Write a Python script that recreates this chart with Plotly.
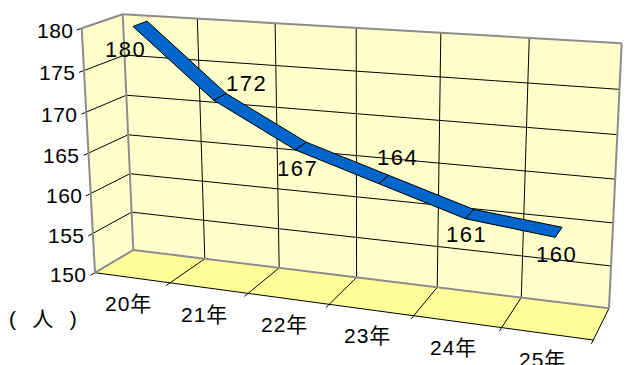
import numpy as np
import plotly.graph_objects as go

# ---------------- data ----------------
categories = ["20年", "21年", "22年", "23年", "24年", "25年"]
values = [180, 172, 167, 164, 161, 160]
y_ticks = [150, 155, 160, 165, 170, 175, 180]
y_min, y_max = 150, 180
unit_label = "(\u2002 人 \u2002)"

# ---------------- style / layout ----------------
W, H = 627, 365
FONT = "Liberation Sans, Arial, Noto Sans CJK JP, sans-serif"
WALL = "#FFFFCC"
FLOOR = "#FFFF99"
EDGE = "#8C8C8C"
RIBBON = "#0066CC"
RIB_W0, RIB_W1 = 0.32, 0.68          # ribbon depth band (0 = front, 1 = back)
# label offsets (pixels) relative to the projected point, per point
LABEL_SHIFT = [(-15, 26), (27, -13), (-3, 22), (14, -22), (-3, 20), (-2, 22)]

# perspective frame of the 3-D box (pixel corners: bottom-left, bottom-right, top-right, top-left)
FRONT_Q = [(95.0, 272.7), (593.3, 340.0), (603.0, 66.3), (81.7, 28.3)]
BACK_Q = [(133.3, 250.0), (609.0, 308.3), (621.7, 43.3), (122.7, 14.3)]


def homography(dst):
    src = [(0, 0), (1, 0), (1, 1), (0, 1)]
    A, b = [], []
    for (x, y), (X, Y) in zip(src, dst):
        A.append([x, y, 1, 0, 0, 0, -X * x, -X * y]); b.append(X)
        A.append([0, 0, 0, x, y, 1, -Y * x, -Y * y]); b.append(Y)
    h = np.linalg.solve(np.array(A, float), np.array(b, float))
    M = np.append(h, 1.0).reshape(3, 3)

    def f(s, t):
        p = M @ np.array([s, t, 1.0])
        return np.array([p[0] / p[2], p[1] / p[2]])
    return f


front = homography(FRONT_Q)
back = homography(BACK_Q)
n = len(categories)


def P(u, v, w):
    s = u / n
    t = (v - y_min) / (y_max - y_min)
    f = front(s, t)
    bk = back(s, t)
    return f + w * (bk - f)


fig = go.Figure()


def poly(pts, fill, line_color=None, lw=0):
    xs = [p[0] for p in pts] + [pts[0][0]]
    ys = [p[1] for p in pts] + [pts[0][1]]
    fig.add_trace(go.Scatter(x=xs, y=ys, mode="lines", fill="toself", fillcolor=fill,
                             line=dict(color=line_color or fill, width=lw if lw else 0.1),
                             hoverinfo="skip", showlegend=False))


def lines(segs, color, width):
    xs, ys = [], []
    for a, b in segs:
        xs += [a[0], b[0], None]
        ys += [a[1], b[1], None]
    fig.add_trace(go.Scatter(x=xs, y=ys, mode="lines", line=dict(color=color, width=width),
                             hoverinfo="skip", showlegend=False))


# walls
poly([P(0, y_min, 0), P(0, y_max, 0), P(0, y_max, 1), P(0, y_min, 1)], WALL)
poly([P(0, y_min, 1), P(n, y_min, 1), P(n, y_max, 1), P(0, y_max, 1)], WALL)
poly([P(0, y_min, 0), P(n, y_min, 0), P(n, y_min, 1), P(0, y_min, 1)], FLOOR)

# gridlines
grid = []
for v in y_ticks[1:-1]:
    grid.append((P(0, v, 1), P(n, v, 1)))          # back wall
    grid.append((P(0, v, -0.12), P(0, v, 1)))      # left wall + tick
grid.append((P(0, y_max, -0.12), P(0, y_max, 0)))
grid.append((P(0, y_min, -0.12), P(0, y_min, 0)))
for i in range(1, n):
    grid.append((P(i, y_min, 1), P(i, y_max, 1)))  # back wall verticals
for i in range(1, n + 1):
    grid.append((P(i, y_min, -0.12), P(i, y_min, 1)))  # floor lines + ticks
grid.append((P(0, y_min, 0), P(n, y_min, 0)))      # front floor edge
lines(grid, "#000000", 1)

# gray frame edges
edges = [
    (P(0, y_min, 1), P(n, y_min, 1)), (P(n, y_min, 1), P(n, y_max, 1)),
    (P(n, y_max, 1), P(0, y_max, 1)), (P(0, y_max, 1), P(0, y_min, 1)),
    (P(0, y_min, 0), P(0, y_max, 0)), (P(0, y_max, 0), P(0, y_max, 1)),
    (P(0, y_min, 0), P(0, y_min, 1)),
]
lines(edges, EDGE, 2)

# ribbon
for i in range(n - 1):
    u0, u1 = i + 0.5, i + 1.5
    quad = [P(u0, values[i], RIB_W0), P(u1, values[i + 1], RIB_W0),
            P(u1, values[i + 1], RIB_W1), P(u0, values[i], RIB_W1)]
    poly(quad, RIBBON, "#000000", 1)

ann = []
# data labels
for i, v in enumerate(values):
    p = P(i + 0.5, v, 0.5)
    dx, dy = LABEL_SHIFT[i]
    ann.append(dict(x=p[0], y=p[1], xref="x", yref="y", showarrow=False,
                    text=f'<span style="letter-spacing:1.5px">{v}</span>',
                    font=dict(family=FONT, size=22, color="#000000"),
                    xshift=dx, yshift=-dy))
# y tick labels
for v in y_ticks:
    p = P(0, v, 0)
    ann.append(dict(x=p[0], y=p[1], xref="x", yref="y", showarrow=False, xanchor="right",
                    text=f'<span style="letter-spacing:0.5px">{v}</span>',
                    font=dict(family=FONT, size=21, color="#000000"),
                    xshift=-6, yshift=-2))
# category labels
for i, c in enumerate(categories):
    p = P(i + 0.5, y_min, 0)
    ann.append(dict(x=p[0], y=p[1], xref="x", yref="y", showarrow=False,
                    text=f'<span style="letter-spacing:1px">{c}</span>',
                    font=dict(family=FONT, size=21, color="#000000"),
                    xshift=-4, yshift=-26))
# unit label
ann.append(dict(x=43, y=318, xref="x", yref="y", showarrow=False, text=unit_label,
                font=dict(family=FONT, size=21, color="#000000")))

fig.update_layout(
    width=W, height=H, margin=dict(l=0, r=0, t=0, b=0),
    paper_bgcolor="white", plot_bgcolor="white",
    xaxis=dict(range=[0, W], visible=False, fixedrange=True),
    yaxis=dict(range=[H, 0], visible=False, fixedrange=True),
    annotations=ann, showlegend=False,
)
fig.write_html("out.html", include_plotlyjs=True, config={"displayModeBar": False})
